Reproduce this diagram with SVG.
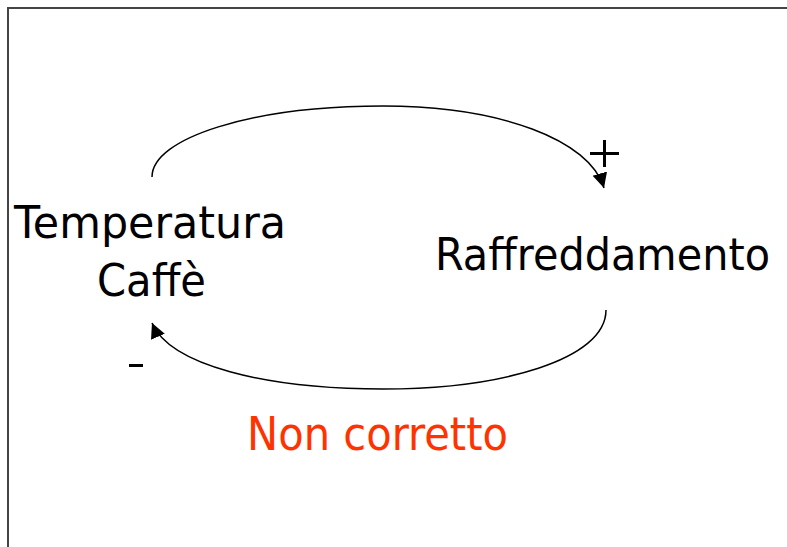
<svg xmlns="http://www.w3.org/2000/svg" width="787" height="547" viewBox="0 0 787 547">
<style>
.lbl{font-family:"DejaVu Sans","Verdana",sans-serif;font-size:45px;fill:#000}
.red{fill:#ff3300;font-size:46px}
.conn{fill:none;stroke:#000;stroke-width:1.5}
.sign{stroke:#000;stroke-width:3;fill:none}
</style>
<defs>
<marker id="arr" markerUnits="userSpaceOnUse" markerWidth="16" markerHeight="16" refX="15" refY="7.5" orient="auto" viewBox="0 0 16 16">
<path d="M0,0 L15,7.5 L0,15 z" fill="#000"/>
</marker>
</defs>
<rect width="787" height="547" fill="#fff"/>
<path d="M8,547 V8 H787" fill="none" stroke="#444" stroke-width="2"/>
<g id="node-temperatura">
<text class="lbl" x="14" y="238" textLength="272" lengthAdjust="spacingAndGlyphs">Temperatura</text>
<text class="lbl" x="97" y="296" textLength="109" lengthAdjust="spacingAndGlyphs">Caffè</text>
</g>
<g id="node-raffreddamento">
<text class="lbl" x="435" y="270" textLength="335" lengthAdjust="spacingAndGlyphs">Raffreddamento</text>
</g>
<g id="connectors">
<path class="conn" d="M152,177 C152,138 252,106 383,106 C500,106 590,140 604,188" marker-end="url(#arr)"/>
<path class="conn" d="M606,310 C606,360 500,389 383,389 C265,389 170,365 152,323" marker-end="url(#arr)"/>
<path class="sign" d="M590,153.5 H619 M604.5,140 V167"/>
<path class="sign" d="M129,365.5 H143"/>
</g>
<g id="note">
<text class="lbl red" x="247" y="450" textLength="261" lengthAdjust="spacingAndGlyphs">Non corretto</text>
</g>
</svg>
